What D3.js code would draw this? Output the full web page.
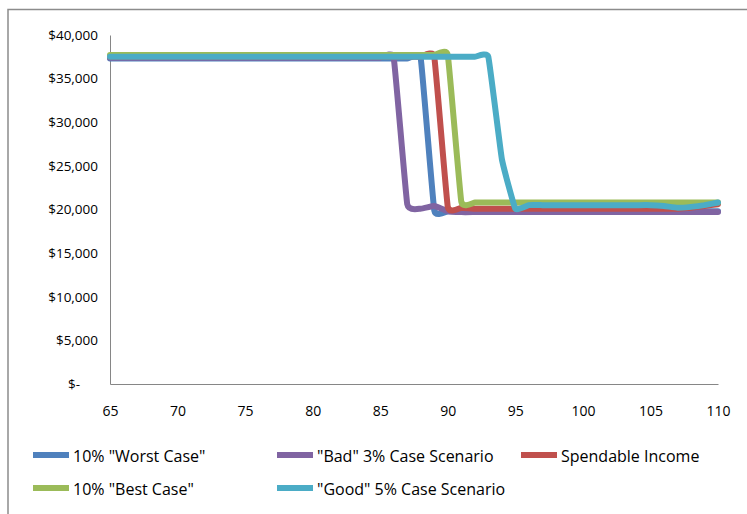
<!DOCTYPE html>
<html><head><meta charset="utf-8">
<script src="https://cdn.jsdelivr.net/npm/d3@7"></script>
<style>
body{margin:0;background:#fff}
svg{display:block}
text{font-family:"Open Sans",sans-serif;fill:#000}
</style>
</head><body>
<svg id="c" width="747" height="514"></svg>
<script>
// ---- data ----
const years = [65,66,67,68,69,70,71,72,73,74,75,76,77,78,79,80,81,82,83,84,85,86,87,88,89,90,91,92,93,94,95,96,97,98,99,100,101,102,103,104,105,106,107,108,109,110];
const seriesNames = ['10% "Worst Case"', '"Bad" 3% Case Scenario', 'Spendable Income', '10% "Best Case"', '"Good" 5% Case Scenario'];
const seriesColors = ["#4F81BD", "#8064A2", "#C0504D", "#9BBB59", "#4BACC6"];
// 65..110
const worst = [37300,37300,37300,37300,37300,37300,37300,37300,37300,37300,37300,37300,37300,37300,37300,37300,37300,37300,37300,37300,37300,37300,37300,37300,
  19900,19800,19800,19800,19800,19800,19800,19800,19800,19800,19800,19800,19800,19800,19800,19800,19800,19800,19800,19800,19800,19800];
const bad = [37400,37400,37400,37400,37400,37400,37400,37400,37400,37400,37400,37400,37400,37400,37400,37400,37400,37400,37400,37400,37400,37400,
  20600,20100,20400,19800,19700,19700,19700,19700,19700,19700,19700,19700,19700,19700,19700,19700,19700,19700,19700,19700,19700,19700,19700,19700];
const spendable = [37500,37500,37500,37500,37500,37500,37500,37500,37500,37500,37500,37500,37500,37500,37500,37500,37500,37500,37500,37500,37500,37500,37500,37500,37500,
  20300,20200,20100,20100,20100,20100,20100,20100,20100,20100,20100,20100,20100,20100,20100,20100,20100,20100,20200,20400,20600];
const best = [37700,37700,37700,37700,37700,37700,37700,37700,37700,37700,37700,37700,37700,37700,37700,37700,37700,37700,37700,37700,37700,37700,37700,37700,37700,37700,
  20900,20800,20800,20800,20800,20800,20800,20800,20800,20800,20800,20800,20800,20800,20800,20800,20800,20800,20800,20800];
const good = [37500,37500,37500,37500,37500,37500,37500,37500,37500,37500,37500,37500,37500,37500,37500,37500,37500,37500,37500,37500,37500,37500,37500,37500,37500,37500,37500,37500,37500,
  25800,20100,20500,20500,20500,20500,20500,20500,20500,20500,20500,20500,20400,20200,20300,20500,20800];
const yTicks = [0,5000,10000,15000,20000,25000,30000,35000,40000];
const xTicks = [65,70,75,80,85,90,95,100,105,110];
const allSeries = [worst, bad, spendable, best, good];

// ---- drawing ----
const svg = d3.select("#c");
svg.append("rect").attr("x",8).attr("y",9.5).attr("width",900).attr("height",700)
  .attr("fill","none").attr("stroke","#8c8c8c").attr("stroke-width",1.5);

const x = d3.scaleLinear().domain([65,110]).range([110,718]);
const y = d3.scaleLinear().domain([0,40000]).range([384,35]);

const fmt = d3.format(",");
const yAxis = svg.append("g").attr("transform","translate(110,0)")
  .call(d3.axisLeft(y).tickValues(yTicks).tickSize(0).tickPadding(12)
    .tickFormat(d => d === 0 ? "$-" : "$" + fmt(d)));
yAxis.select(".domain").attr("stroke","#868686");
yAxis.selectAll("text").attr("font-size",13.5).attr("font-family","Open Sans,sans-serif")
  .attr("dx", d => d === 0 ? -18 : 0);

const xAxis = svg.append("g").attr("transform","translate(0,384)")
  .call(d3.axisBottom(x).tickValues(xTicks).tickSize(0).tickPadding(22));
xAxis.select(".domain").attr("stroke","#868686");
xAxis.selectAll("text").attr("font-size",14).attr("font-family","Open Sans,sans-serif");

const line = d3.line().x((d,i) => x(years[i])).y(d => y(d)).curve(d3.curveCardinal.tension(0.7));
svg.append("g").selectAll("path").data(allSeries).join("path")
  .attr("d", d => line(d)).attr("fill","none")
  .attr("stroke",(d,i) => seriesColors[i]).attr("stroke-width",6)
  .attr("stroke-linejoin","round").attr("stroke-linecap","round");

// legend
const legendPos = [[33,452],[277,452],[521,452],[33,485],[277,485]];
const lg = svg.append("g").selectAll("g").data(seriesNames).join("g")
  .attr("transform",(d,i) => `translate(${legendPos[i][0]},${legendPos[i][1]})`);
lg.append("rect").attr("width",36).attr("height",6).attr("fill",(d,i) => seriesColors[i]);
lg.append("text").attr("x",40).attr("y",10).attr("font-size",16).text(d => d);
</script>
</body></html>
